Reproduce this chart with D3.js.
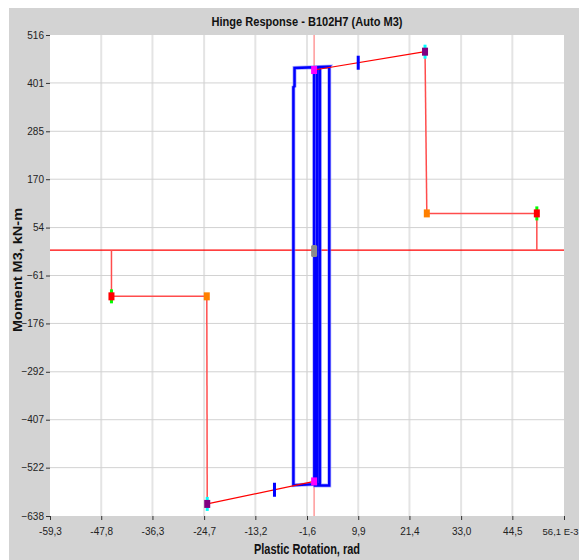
<!DOCTYPE html>
<html>
<head>
<meta charset="utf-8">
<script src="https://cdn.jsdelivr.net/npm/d3@7"></script>
<style>
  body { margin: 0; background: #fff; }
  text { font-family: "Liberation Sans Narrow", "Arial Narrow", "Liberation Sans", sans-serif; }
</style>
</head>
<body>
<div id="chart"></div>
<script>
// axis ticks (labels use comma decimals like the original)
var xTicks = [-59.3, -47.8, -36.3, -24.7, -13.2, -1.6, 9.9, 21.4, 33.0, 44.5, 56.1]
var xTickLabels = ["-59,3", "-47,8", "-36,3", "-24,7", "-13,2", "-1,6", "9,9", "21,4", "33,0", "44,5", "56,1 E-3"]
var yTicks = [516, 401, 285, 170, 54, -61, -176, -292, -407, -522, -638]

// backbone curve, positive and negative side: B, C, D, E, then back to zero
var posX = [0, 24.9, 25.3, 50.0, 50.0]
var posY = [432, 476, 88, 88, 0]
var negX = [0, -24.0, -24.1, -45.5, -45.5]
var negY = [-555, -609, -111, -111, 0]
// acceptance markers (IO) on the B-C branch
var ioX = [9.9, -8.9]

// hinge hysteresis (blue)
var hystX = [0, 0, 0.7, 0.7, 0.05, 0.05, 1.3, 1.3, -4.65, -4.65, -4.4, -4.4, 3.5, 3.4, 3.4, 0.2, 0.2]
var hystY = [0, 435, 437, -558, -560, 436, 438, -561, -564, 391, 393, 437, 440, 438, -565, -565, 0]

var W = 579, H = 560
var margin = {top: 35, right: 15, bottom: 44, left: 50}
var pw = W - margin.left - margin.right
var ph = H - margin.top - margin.bottom

var svg = d3.select('#chart').append('svg')
  .attr('width', W)
  .attr('height', H)

// gray panel
svg.append('rect')
  .attr('x', 9).attr('y', 8)
  .attr('width', W - 9).attr('height', H - 8)
  .attr('fill', '#d3d3d3')

svg.append('text')
  .attr('x', 307).attr('y', 26)
  .attr('text-anchor', 'middle')
  .attr('font-weight', 'bold')
  .attr('font-size', 13)
  .attr('textLength', 191).attr('lengthAdjust', 'spacingAndGlyphs')
  .attr('fill', '#111')
  .text('Hinge Response - B102H7 (Auto M3)')

var g = svg.append('g').attr('transform', 'translate(' + margin.left + ',' + margin.top + ')')

g.append('rect').attr('width', pw).attr('height', ph).attr('fill', '#fff')

var x = d3.scaleLinear().domain([xTicks[0], xTicks[xTicks.length - 1]]).range([0, pw])
var y = d3.scaleLinear().domain([yTicks[yTicks.length - 1], yTicks[0]]).range([ph, 0])

// grid
g.selectAll('.vgrid').data(xTicks.slice(1, -1)).enter().append('line')
  .attr('x1', function(d){ return x(d) }).attr('x2', function(d){ return x(d) })
  .attr('y1', 0).attr('y2', ph)
  .attr('stroke', '#e4e4e4').attr('stroke-width', 2)
g.selectAll('.hgrid').data(yTicks.slice(1, -1)).enter().append('line')
  .attr('y1', function(d){ return y(d) }).attr('y2', function(d){ return y(d) })
  .attr('x1', 0).attr('x2', pw)
  .attr('stroke', '#d2d2d2').attr('stroke-width', 1)

// axes
var xAxis = g.append('g')
  .attr('transform', 'translate(0,' + ph + ')')
  .call(d3.axisBottom(x).tickValues(xTicks).tickSize(4).tickPadding(8)
    .tickFormat(function(d, i){ return xTickLabels[i] }))
var yAxis = g.append('g')
  .call(d3.axisLeft(y).tickValues(yTicks).tickSize(4).tickPadding(2))
;[xAxis, yAxis].forEach(function(a){
  a.select('.domain').remove()
  a.selectAll('.tick line').attr('stroke', '#333')
  a.selectAll('.tick text').attr('fill', '#222').attr('font-size', 10)
    .attr('font-family', '"Liberation Sans Narrow", "Arial Narrow", sans-serif')
})
// last x label carries the exponent and sits against the right edge
xAxis.selectAll('.tick text').filter(function(d, i){ return i == xTicks.length - 1 })
  .attr('text-anchor', 'end').attr('x', W - margin.left - x(xTicks[xTicks.length - 1]) - 1)
  .attr('font-size', 9.5)

// zero lines
g.append('line')
  .attr('x1', x(0)).attr('x2', x(0)).attr('y1', 0).attr('y2', ph)
  .attr('stroke', '#ff9a9a').attr('stroke-width', 1.5)
g.append('line')
  .attr('x1', 0).attr('x2', pw).attr('y1', y(0)).attr('y2', y(0))
  .attr('stroke', '#ff0000').attr('stroke-width', 1.2)

// hysteresis
var hyst = hystX.map(function(d, i){ return [d, hystY[i]] })
var line = d3.line().x(function(d){ return x(d[0]) }).y(function(d){ return y(d[1]) })
g.append('path').datum(hyst).attr('d', line)
  .attr('fill', 'none').attr('stroke', '#7f7fff').attr('stroke-width', 4).attr('stroke-opacity', 0.6)
g.append('path').datum(hyst).attr('d', line)
  .attr('fill', 'none').attr('stroke', '#0000ff').attr('stroke-width', 2.5)

// backbone
function drawBackbone(xs, ys){
  var pts = xs.map(function(d, i){ return [d, ys[i]] })
  for (var i = 0; i < pts.length - 1; i++){
    g.append('path').datum([pts[i], pts[i + 1]]).attr('d', line)
      .attr('fill', 'none')
      .attr('stroke', i == 0 ? '#ff0000' : '#ff4d4d')
      .attr('stroke-width', i == 0 ? 1.2 : 1.5)
  }
  return pts
}
var pos = drawBackbone(posX, posY)
var neg = drawBackbone(negX, negY)

// IO markers, placed on the B-C segment
ioX.forEach(function(v){
  var s = v > 0 ? pos : neg
  var t = (v - s[0][0]) / (s[1][0] - s[0][0])
  var yv = s[0][1] + t * (s[1][1] - s[0][1])
  g.append('rect')
    .attr('x', x(v) - 1.5).attr('y', y(yv) - 7)
    .attr('width', 3).attr('height', 14)
    .attr('fill', '#0000ff')
})

// point markers
var markerFill = ['#ff00ff', '#800080', '#ff8000', '#ff0000']
var markerHalo = [null, '#00ffff', null, '#00ff00']
function drawMarkers(pts){
  pts.slice(0, 4).forEach(function(p, i){
    if (markerHalo[i]){
      g.append('rect')
        .attr('x', x(p[0]) - 1.5).attr('y', y(p[1]) - 7)
        .attr('width', 3).attr('height', 14)
        .attr('fill', markerHalo[i])
    }
    g.append('rect')
      .attr('x', x(p[0]) - 3).attr('y', y(p[1]) - 4)
      .attr('width', 6).attr('height', 8)
      .attr('fill', markerFill[i])
  })
}
drawMarkers(pos)
drawMarkers(neg)

// origin marker
g.append('rect')
  .attr('x', x(0) - 3).attr('y', y(0) - 5)
  .attr('width', 6).attr('height', 12).attr('rx', 1.5)
  .attr('fill', '#8c8c8c')

// axis titles
svg.append('text')
  .attr('x', 307).attr('y', 554)
  .attr('text-anchor', 'middle')
  .attr('font-weight', 'bold').attr('font-size', 14)
  .attr('textLength', 106).attr('lengthAdjust', 'spacingAndGlyphs')
  .attr('fill', '#111')
  .text('Plastic Rotation, rad')
svg.append('text')
  .attr('transform', 'translate(22,270) rotate(-90)')
  .attr('text-anchor', 'middle')
  .attr('font-family', '"Liberation Sans", Arial, sans-serif')
  .attr('font-weight', 'bold').attr('font-size', 13)
  .attr('textLength', 124).attr('lengthAdjust', 'spacingAndGlyphs')
  .attr('fill', '#111')
  .text('Moment M3, kN-m')
</script>
</body>
</html>
